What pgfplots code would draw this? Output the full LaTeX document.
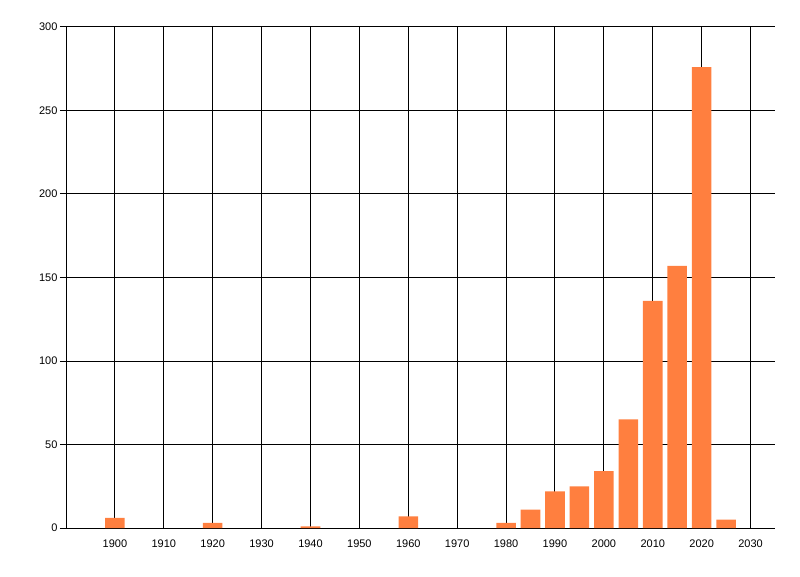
\documentclass[border=0pt]{standalone}
\usepackage{pgfplots}
\pgfplotsset{compat=1.18}
\usepackage{fontspec}
\setmainfont{Liberation Sans}
\definecolor{barorange}{RGB}{255,127,63}
\begin{document}
\begin{tikzpicture}[x=1pt,y=1pt]
\useasboundingbox (0,0) rectangle (800,576);
\begin{axis}[
  at={(66pt,48pt)}, anchor=south west,
  scale only axis,
  width=709pt, height=501pt,
  xmin=1890, xmax=2035,
  ymin=0, ymax=300,
  xtick={1900,1910,...,2030},
  ytick={0,50,...,300},
  axis x line*=bottom,
  axis y line*=left,
  axis line style={black, line width=1pt, -},
  grid=major,
  major grid style={black, line width=1pt},
  tick align=outside,
  major tick length=6pt,
  xtick style={draw=none},
  ytick style={black, line width=1pt},
  tick label style={font=\fontsize{11}{13}\selectfont},
  xticklabel style={yshift=-2pt},
  yticklabel style={xshift=1pt},
  /pgf/number format/assume math mode=true,
  /pgf/number format/1000 sep={},
  ybar, bar width=4, bar shift=0pt,
]
\addplot[fill=barorange, draw=none] coordinates {
  (1900,6) (1920,3) (1940,1) (1960,7) (1980,3) (1985,11)
  (1990,22) (1995,25) (2000,34) (2005,65) (2010,136)
  (2015,157) (2020,276) (2025,5)
};
\end{axis}
\end{tikzpicture}
\end{document}
